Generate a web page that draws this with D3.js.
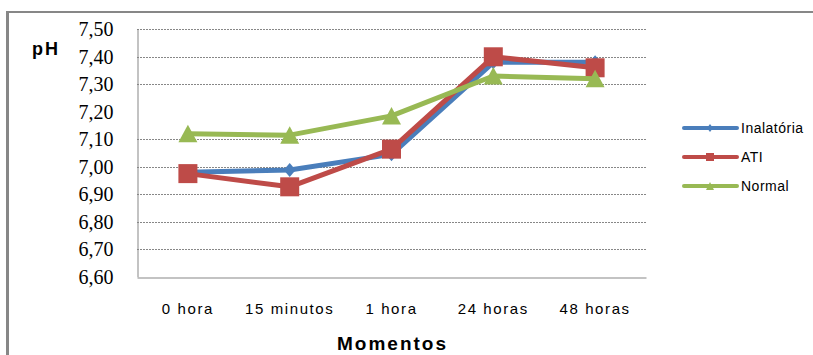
<!DOCTYPE html>
<html><head><meta charset="utf-8">
<script src="https://cdn.jsdelivr.net/npm/d3@7"></script>
<style>body{margin:0;background:#fff}svg{display:block}</style>
</head><body>
<svg id="c" width="813" height="355"></svg>
<script>
const categories = ["0 hora","15 minutos","1 hora","24 horas","48 horas"];
const inalatoria = [6.98, 6.988, 7.045, 7.38, 7.38];
const ati = [6.975, 6.927, 7.064, 7.40, 7.36];
const normal = [7.12, 7.115, 7.185, 7.33, 7.32];
const seriesNames = ["Inalatória","ATI","Normal"];
const yTicks = [6.6,6.7,6.8,6.9,7.0,7.1,7.2,7.3,7.4,7.5];
const gridShown = [6.7,6.8,6.9,7.0,7.1,7.3,7.4,7.5];

const colors = ["#4a7ebb","#be4b48","#98b954"];
const svg = d3.select("#c");
const L=137, R=646, T=29.3, B=276.7;
const x = d3.scaleBand().domain(categories).range([L,R]);
const y = d3.scaleLinear().domain([6.6,7.5]).range([B,T]);
const fmt = v => d3.format(".2f")(v).replace(".",",");

// frame
svg.append("line").attr("x1",6).attr("x2",813).attr("y1",12).attr("y2",12).attr("stroke","#878787").attr("stroke-width",2);
svg.append("line").attr("x1",7.5).attr("x2",7.5).attr("y1",11).attr("y2",355).attr("stroke","#878787").attr("stroke-width",3);

// grid
svg.append("g").selectAll("line").data(gridShown).join("line")
  .attr("x1",L).attr("x2",R).attr("y1",d=>Math.round(y(d))+0.5).attr("y2",d=>Math.round(y(d))+0.5)
  .attr("stroke","#878787").attr("stroke-width",1).attr("stroke-dasharray","2,1");

// axes
const ya = svg.append("g").attr("transform",`translate(${L+0.5},0)`)
  .call(d3.axisLeft(y).tickValues(yTicks).tickFormat(fmt).tickSize(0).tickPadding(24));
ya.select(".domain").attr("stroke","#878787");
ya.selectAll("text").attr("font-family","Liberation Serif").attr("font-size",20).attr("fill","#000");
const xa = svg.append("g").attr("transform",`translate(0,${Math.round(B)+0.5})`)
  .call(d3.axisBottom(x).tickSize(0).tickPadding(0));
xa.select(".domain").attr("stroke","#878787");
xa.selectAll("text").attr("font-family","Liberation Sans").attr("font-size",15).attr("fill","#000")
  .attr("letter-spacing","1.6px").attr("dy",null).attr("y",36);

// series
const all = [inalatoria, ati, normal];
const line = d3.line().x((d,i)=>x(categories[i])+x.bandwidth()/2).y(d=>y(d));
const markers = [
  (g,cx,cy)=>g.append("path").attr("d",`M${cx},${cy-7}L${cx+6},${cy}L${cx},${cy+7}L${cx-6},${cy}Z`),
  (g,cx,cy)=>g.append("rect").attr("x",cx-9.5).attr("y",cy-9.5).attr("width",19).attr("height",19),
  (g,cx,cy)=>g.append("path").attr("d",`M${cx},${cy-9}L${cx+9.5},${cy+8.5}L${cx-9.5},${cy+8.5}Z`)
];
all.forEach((vals,s)=>{
  const g = svg.append("g").attr("fill",colors[s]);
  g.append("path").datum(vals).attr("d",line).attr("fill","none").attr("stroke",colors[s]).attr("stroke-width",5).attr("stroke-linejoin","round");
  vals.forEach((v,i)=>markers[s](g, x(categories[i])+x.bandwidth()/2, y(v)));
});

// legend
const legY = [128,157,186];
const smallMarkers = [
  (g,cx,cy)=>g.append("path").attr("d",`M${cx},${cy-4}L${cx+3},${cy}L${cx},${cy+4}L${cx-3},${cy}Z`),
  (g,cx,cy)=>g.append("rect").attr("x",cx-4).attr("y",cy-4).attr("width",8).attr("height",8),
  (g,cx,cy)=>g.append("path").attr("d",`M${cx},${cy-4}L${cx+4},${cy+4}L${cx-4},${cy+4}Z`)
];
seriesNames.forEach((n,s)=>{
  const g = svg.append("g").attr("fill",colors[s]);
  g.append("line").attr("x1",684).attr("x2",737).attr("y1",legY[s]).attr("y2",legY[s]).attr("stroke",colors[s]).attr("stroke-width",4).attr("stroke-linecap","round");
  smallMarkers[s](g,710,legY[s]);
  svg.append("text").attr("x",741).attr("y",legY[s]+5).text(n)
    .attr("font-family","Liberation Sans").attr("font-size",14).attr("letter-spacing","0.5px").attr("fill","#000");
});

// titles
svg.append("text").attr("x",32).attr("y",55).text("pH").attr("font-family","Liberation Sans")
  .attr("font-weight","bold").attr("font-size",18).attr("letter-spacing","2px").attr("fill","#000");
svg.append("text").attr("x",(L+R)/2+1).attr("y",350).attr("text-anchor","middle").text("Momentos")
  .attr("font-family","Liberation Sans").attr("font-weight","bold").attr("font-size",19).attr("letter-spacing","2px").attr("fill","#000");
</script>
</body></html>
